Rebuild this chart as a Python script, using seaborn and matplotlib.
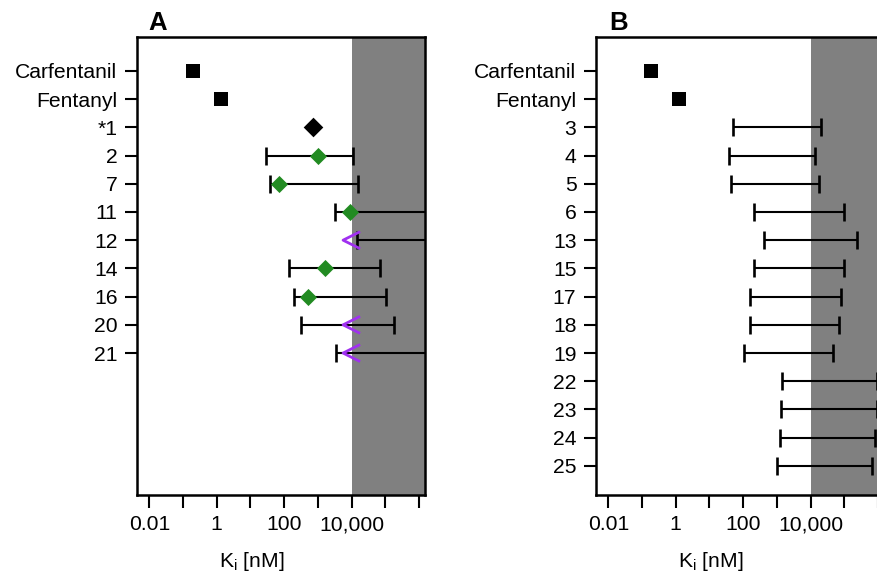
import matplotlib
matplotlib.use("Agg")
import matplotlib.pyplot as plt
import seaborn as sns
import pandas as pd
import numpy as np
from matplotlib.path import Path
from matplotlib.markers import MarkerStyle

# ---------------------------------------------------------
# DATA (Ki in nM)
# ---------------------------------------------------------
nan = np.nan

# Panel A
a_names = ['Carfentanil', 'Fentanyl', '*1', '2', '7', '11', '12', '14', '16', '20', '21']
a_ki = [0.2, 1.3, 720, 1000, 70, 8900, 10000, 1600, 525, 10000, 10000]
a_kind = ['ref', 'ref', 'lead', 'active', 'active', 'active', 'weak',
          'active', 'active', 'weak', 'weak']
a_lo = [nan, nan, nan, 29, 39, 3200, 14000, 143, 200, 316, 3550]
a_hi = [nan, nan, nan, 10700, 16000, 1e7, 1e7, 71000, 107000, 180000, 1e7]

# Panel B
b_names = ['Carfentanil', 'Fentanyl', '3', '4', '5', '6', '13', '15', '17',
           '18', '19', '22', '23', '24', '25']
b_ki = [0.19, 1.25] + [nan] * 13
b_kind = ['ref', 'ref'] + ['none'] * 13
b_lo = [nan, nan, 49, 38, 43, 205, 410, 205, 155, 155, 107, 1380, 1290, 1200, 1030]
b_hi = [nan, nan, 20500, 13500, 17400, 98000, 245000, 98000, 78000, 72000, 47000,
        910000, 910000, 800000, 680000]

xticks = [1e-2, 1e-1, 1, 10, 100, 1e3, 1e4, 1e5, 1e6]
xticklabels = ['0.01', '', '1', '', '100', '', '10,000', '', '']

# ---------------------------------------------------------
# STYLE
# ---------------------------------------------------------
sns.set_theme(style="ticks")
plt.rcParams['font.family'] = ['Liberation Sans', 'DejaVu Sans']
plt.rcParams['mathtext.fontset'] = 'custom'
plt.rcParams['mathtext.rm'] = 'Liberation Sans'
plt.rcParams['mathtext.it'] = 'Liberation Sans'
plt.rcParams['text.color'] = 'black'
plt.rcParams['axes.labelcolor'] = 'black'

# the "<" mark used for weak binders
chevron = MarkerStyle(Path([(1, 1), (-1, 0), (1, -1)],
                           [Path.MOVETO, Path.LINETO, Path.LINETO]),
                      fillstyle='none')
styles = {
    'ref': dict(marker='s', s=88, color='black'),
    'lead': dict(marker='D', s=100, color='black'),
    'active': dict(marker='D', s=76, color='#228b22'),
    'weak': dict(marker=chevron, s=150, color='#a030f0', linewidth=2.0),
}

XLIM = (10 ** -2.365, 10 ** 6.178)
YLIM = (15.03, -1.2)
FS = 15.2

fig = plt.figure(figsize=(8.77, 5.73), dpi=100)
ax_a = fig.add_axes([137 / 877, 78 / 573, 288 / 877, 458 / 573])
ax_b = fig.add_axes([596 / 877, 78 / 573, 288 / 877, 458 / 573])


def draw_panel(ax, names, ki, kind, lo, hi, letter, letter_x):
    df = pd.DataFrame({'name': names, 'ki': ki, 'kind': kind, 'lo': lo, 'hi': hi})
    df['pos'] = np.arange(len(df))

    ax.set_xscale('log')
    ax.axvspan(1e4, 1e8, color='#808080', lw=0, zorder=0)

    # range bars
    rng = df.dropna(subset=['lo'])
    ax.errorbar(rng['lo'], rng['pos'],
                xerr=[np.zeros(len(rng)), rng['hi'] - rng['lo']],
                fmt='none', ecolor='black', elinewidth=1.5,
                capsize=6.5, capthick=1.9, zorder=2)

    # point markers
    for k, st in styles.items():
        sub = df[(df['kind'] == k) & df['ki'].notna()]
        if len(sub) == 0:
            continue
        if k == 'weak':
            sns.scatterplot(data=sub, x='ki', y='pos', ax=ax, marker=st['marker'],
                            s=st['s'], color=st['color'], linewidth=st['linewidth'],
                            zorder=3, legend=False)
        else:
            sns.scatterplot(data=sub, x='ki', y='pos', ax=ax, marker=st['marker'],
                            s=st['s'], color=st['color'], linewidth=0,
                            zorder=3, legend=False)

    ax.set_xlim(*XLIM)
    ax.set_ylim(*YLIM)
    ax.set_yticks(df['pos'])
    ax.set_yticklabels(df['name'])
    ax.set_xticks(xticks)
    ax.set_xticklabels(xticklabels)
    ax.minorticks_off()
    ax.tick_params(axis='both', direction='out', width=1.5, labelsize=FS,
                   colors='black')
    ax.tick_params(axis='x', length=9.5, pad=5)
    ax.tick_params(axis='y', length=8.6, pad=5.5)
    for sp in ax.spines.values():
        sp.set_visible(True)
        sp.set_linewidth(1.8)
        sp.set_color('black')

    ax.set_ylabel('')
    ax.set_xlabel('K$_\\mathrm{i}$ [nM]', fontsize=FS)
    ax.xaxis.set_label_coords(0.40, -0.145)
    ax.xaxis.label.set_verticalalignment('center')

    fig.text(letter_x / 877, 1 - 29.5 / 573, letter, fontsize=18.5,
             fontweight='bold', va='baseline', ha='left', color='black')


draw_panel(ax_a, a_names, a_ki, a_kind, a_lo, a_hi, 'A', 148)
draw_panel(ax_b, b_names, b_ki, b_kind, b_lo, b_hi, 'B', 609)

fig.savefig('out.png', dpi=100)
